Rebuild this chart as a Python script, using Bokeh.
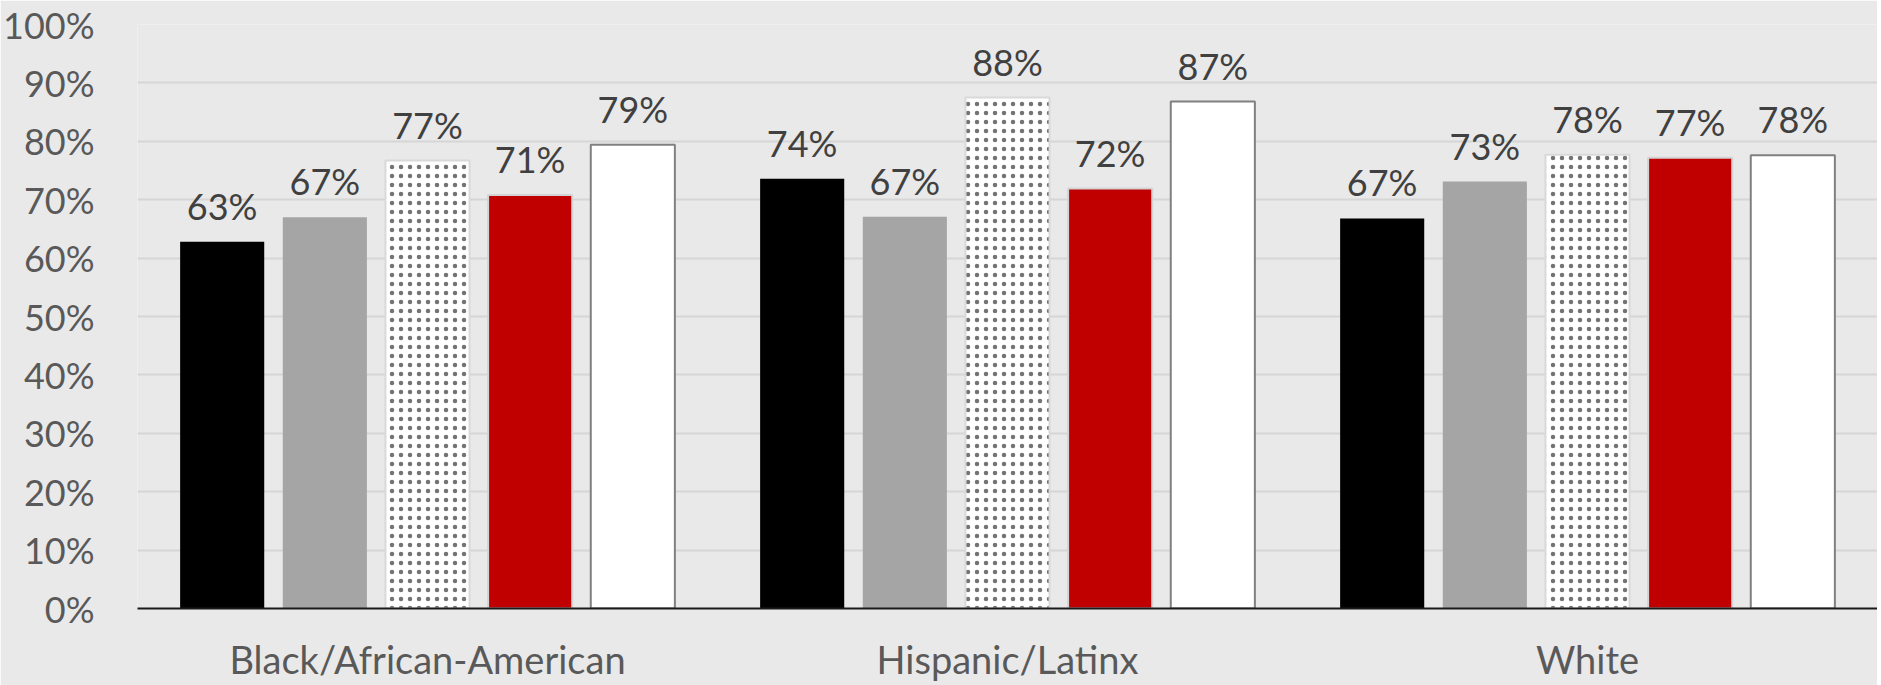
from bokeh.plotting import figure
from bokeh.models import (ColumnDataSource, LabelSet, FactorRange, Range1d, PrintfTickFormatter,
                          FixedTicker)
from bokeh.core.properties import value
from bokeh.transform import dodge
from bokeh.embed import file_html
from bokeh.resources import INLINE

categories = ["Black/African-American", "Hispanic/Latinx", "White"]
series_a = [62.8, 73.6, 66.8]   # black bars
series_b = [67.0, 67.1, 73.1]   # gray bars
series_c = [76.7, 87.5, 77.7]   # dotted bars
series_d = [70.8, 71.9, 77.2]   # red bars
series_e = [79.4, 86.8, 77.6]   # white bars
labels_a = ["63%", "74%", "67%"]
labels_b = ["67%", "67%", "73%"]
labels_c = ["77%", "88%", "78%"]
labels_d = ["71%", "72%", "77%"]
labels_e = ["79%", "87%", "78%"]
y_ticks = [0, 10, 20, 30, 40, 50, 60, 70, 80, 90, 100]

BG = "#e9e9e9"
FONT = "Lato"
p = figure(x_range=FactorRange(*categories), y_range=Range1d(0, 100),
           width=1877, height=685, output_backend="svg", toolbar_location=None,
           min_border_left=134, min_border_right=0, min_border_top=24, min_border_bottom=77,
           background_fill_color=BG, border_fill_color=BG)
p.outline_line_color = None

styles = [
    (series_a, labels_a, -0.354, dict(fill_color="#000000", line_color=None)),
    (series_b, labels_b, -0.177, dict(fill_color="#a5a5a5", line_color=None)),
    (series_c, labels_c, 0.0, dict(fill_color="#ffffff", line_color="#d9d9d9", line_width=2,
                                   hatch_pattern="dot", hatch_color="#000000",
                                   hatch_scale=9, hatch_weight=0.5, hatch_alpha=0.55)),
    (series_d, labels_d, 0.177, dict(fill_color="#c00000", line_color="#d3d3d3", line_width=2)),
    (series_e, labels_e, 0.354, dict(fill_color="#ffffff", line_color="#808080", line_width=2)),
]

for vals, labs, off, st in styles:
    src = ColumnDataSource(dict(cat=categories, val=vals, lab=labs))
    p.vbar(x=dodge("cat", off, range=p.x_range), top="val", width=0.145, source=src, **st)
    ls = LabelSet(x=dodge("cat", off, range=p.x_range), y="val", text="lab", source=src,
                  y_offset=14, text_align="center", text_baseline="bottom",
                  text_font=value(FONT), text_font_size=value("36px"), text_color="#404040")
    p.add_layout(ls)

p.xgrid.grid_line_color = None
p.ygrid.grid_line_color = "#d6d6d6"
p.ygrid.grid_line_width = 2
p.ygrid.ticker = FixedTicker(ticks=y_ticks)

p.yaxis.ticker = FixedTicker(ticks=y_ticks)
p.yaxis.formatter = PrintfTickFormatter(format="%d%%")
p.yaxis.axis_line_color = None
p.yaxis.major_tick_line_color = None
p.yaxis.minor_tick_line_color = None
p.yaxis.major_label_standoff = 37
p.yaxis.major_label_text_font = FONT
p.yaxis.major_label_text_font_size = "36px"
p.yaxis.major_label_text_color = "#595959"

p.xaxis.axis_line_color = "#1a1a1a"
p.xaxis.axis_line_width = 2
p.xaxis.major_tick_line_color = None
p.xaxis.major_tick_out = 0
p.xaxis.major_tick_in = 0
p.xaxis.minor_tick_line_color = None
p.xaxis.major_label_standoff = 27
p.xaxis.major_label_text_font = FONT
p.xaxis.major_label_text_font_size = "38px"
p.xaxis.major_label_text_color = "#595959"

open("out.html", "w").write(file_html(p, INLINE))
